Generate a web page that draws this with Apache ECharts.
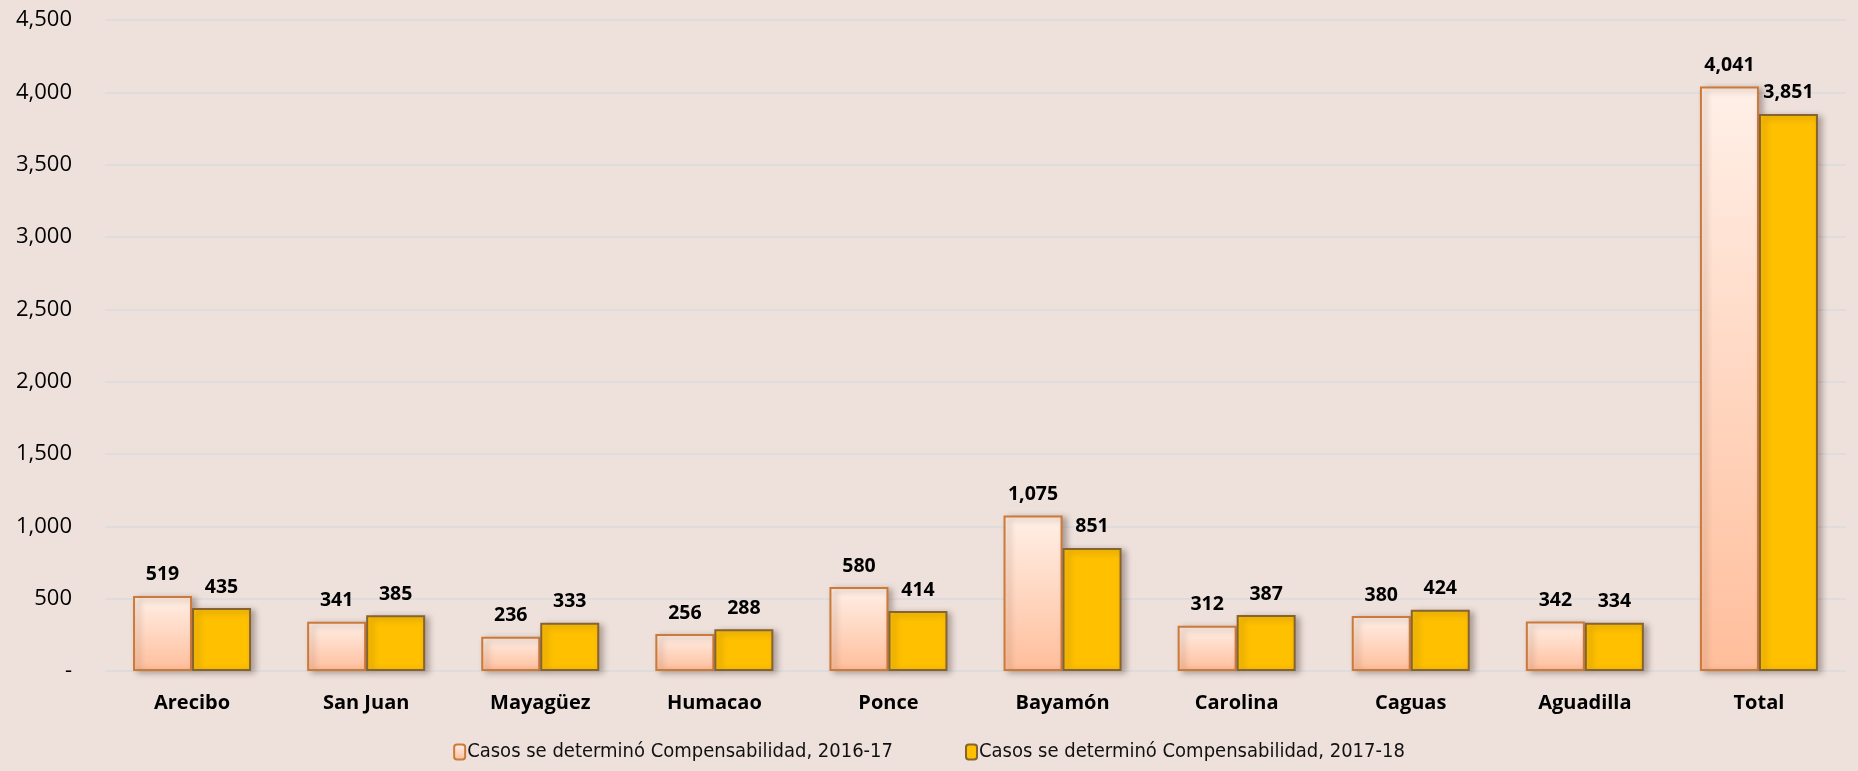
<!DOCTYPE html>
<html><head><meta charset="utf-8">
<script src="https://cdn.jsdelivr.net/npm/echarts@6/dist/echarts.min.js"></script>
<style>html,body{margin:0;padding:0;background:#EEE1DC;}#c{width:1858px;height:771px;}</style>
</head><body><div id="c"></div>
<script>
const categories = ['Arecibo','San Juan','Mayagüez','Humacao','Ponce','Bayamón','Carolina','Caguas','Aguadilla','Total'];
const series1Name = 'Casos se determinó Compensabilidad, 2016-17';
const series2Name = 'Casos se determinó Compensabilidad, 2017-18';
const values2016 = [519, 341, 236, 256, 580, 1075, 312, 380, 342, 4041];
const values2017 = [435, 385, 333, 288, 414, 851, 387, 424, 334, 3851];
const yTicks = [0, 500, 1000, 1500, 2000, 2500, 3000, 3500, 4000, 4500];

const fmt = v => v === 0 ? '-' : v.toLocaleString('en-US');
const labelStyle = {show:true, position:'top', distance:11, color:'#000', fontWeight:'bold', fontSize:19.5,
  fontFamily:'"Open Sans", sans-serif', formatter: p => fmt(p.value)};
const shadow = {shadowBlur:6, shadowColor:'rgba(60,40,30,0.35)', shadowOffsetX:4, shadowOffsetY:2};

const chart = echarts.init(document.getElementById('c'));
chart.setOption({
  backgroundColor:'#EEE1DC',
  animation:false,
  grid:{left:105, right:12, top:20, bottom:100},
  legend:{
    bottom:4, left:'center', itemGap:72, itemWidth:11, itemHeight:15,
    textStyle:{fontSize:20, color:'#111', fontFamily:'"DejaVu Sans Condensed", "Open Sans", sans-serif', padding:[0,0,0,-3]},
    data:[series1Name, series2Name]
  },
  xAxis:{type:'category', data:categories,
    axisLine:{show:false}, axisTick:{show:false},
    axisLabel:{margin:22, fontSize:20, fontWeight:'bold', color:'#000', fontFamily:'"Open Sans", sans-serif'}},
  yAxis:{type:'value', min:yTicks[0], max:yTicks[yTicks.length-1], interval:500,
    axisLine:{show:false}, axisTick:{show:false},
    splitLine:{lineStyle:{color:'#D8DADC', width:1.5}},
    axisLabel:{margin:33, fontSize:22, color:'#000', fontFamily:'"Open Sans", sans-serif', formatter: v => fmt(v)}},
  series:[
    {name:series1Name, type:'bar', data:values2016, barWidth:59, barGap:'0%',
      itemStyle:Object.assign({color:new echarts.graphic.LinearGradient(0,0,0,1,[{offset:0,color:'#FFF0E8'},{offset:1,color:'#FFBE9B'}]),
        borderColor:'#CC7A3A', borderWidth:2}, shadow),
      label:labelStyle},
    {name:series2Name, type:'bar', data:values2017, barWidth:59,
      itemStyle:Object.assign({color:'#FFC000', borderColor:'#866330', borderWidth:2}, shadow),
      label:labelStyle}
  ]
});
</script></body></html>
